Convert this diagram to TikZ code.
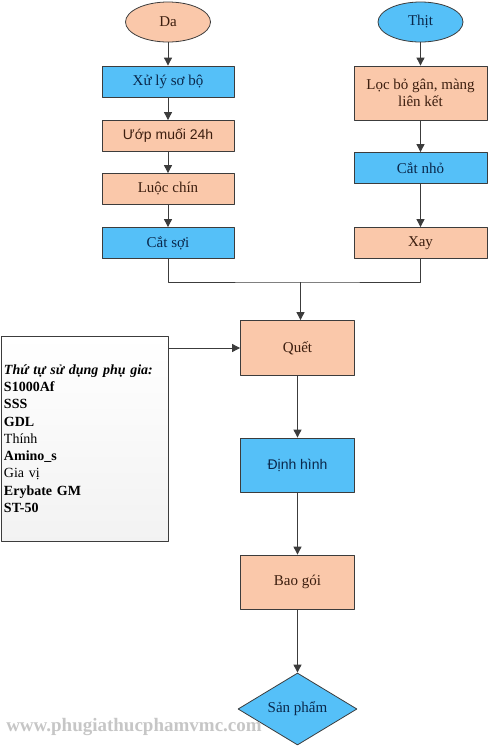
\documentclass[tikz,border=0pt]{standalone}
\usepackage{fontspec}
\setmainfont{Liberation Serif}
\newfontfamily\arialfont{Liberation Sans}
\usetikzlibrary{arrows.meta,shapes.geometric}
\definecolor{cam}{RGB}{250,200,170}
\definecolor{xanh}{RGB}{85,192,248}
\definecolor{vien}{RGB}{60,60,60}
\definecolor{chucam}{RGB}{60,30,15}
\definecolor{chuxanh}{RGB}{10,40,75}
\begin{document}
\begin{tikzpicture}[x=1pt, y=-1pt, line join=round,
	hop/.style={draw=vien, line width=0.8pt, rectangle, minimum height=31pt, inner sep=2pt, align=center, font=\fontsize{15}{17}\selectfont},
	cam/.style={hop, fill=cam, text=chucam},
	xanh/.style={hop, fill=xanh, text=chuxanh},
	muiten/.style={draw=vien, line width=0.9pt, -{Triangle[length=8pt,width=8pt]}},
	noi/.style={draw=vien, line width=0.9pt}]
				\useasboundingbox (0,0) rectangle (489,747);
				% cot trai: da
				\node[cam, ellipse, minimum width=85pt, minimum height=40pt] (da) at (168,22) {Da};
				\node[xanh, minimum width=132pt] (xuly) at (168,81.5) {Xử lý sơ bộ};
				\node[cam, minimum width=132pt, font=\arialfont\fontsize{14}{16}\selectfont] (uop) at (168,136) {Ướp muối 24h};
				\node[cam, minimum width=132pt] (luoc) at (168,189) {Luộc chín};
				\node[xanh, minimum width=132pt] (catsoi) at (168,243) {Cắt sợi};
				% cot phai: thit
				\node[xanh, ellipse, minimum width=85pt, minimum height=40pt] (thit) at (420.5,22) {Thịt};
				\node[cam, minimum width=133pt, minimum height=54pt] (loc) at (420.5,93) {Lọc bỏ gân, màng\\ liên kết};
				\node[xanh, minimum width=133pt] (catnho) at (420.5,168) {Cắt nhỏ};
				\node[cam, minimum width=133pt] (xay) at (420.5,243) {Xay};
				% cot giua
				\node[cam, minimum width=114pt, minimum height=55pt] (quet) at (297.5,348) {Quết};
				\node[xanh, minimum width=114pt, minimum height=54pt, font=\arialfont\fontsize{14}{16}\selectfont] (dinhhinh) at (297.5,465) {Định hình};
				\node[cam, minimum width=114pt, minimum height=54pt] (baogoi) at (297.5,582) {Bao gói};
				\node[xanh, diamond, aspect=1.65, inner sep=0pt, minimum width=119pt, minimum height=72pt] (sanpham) at (297.5,709) {Sản phẩm};
				% phu gia
				\node[draw=vien, line width=0.6pt, top color=white, bottom color=gray!10, minimum width=167pt, minimum height=205pt, text width=161pt, align=left, inner sep=3pt, font=\fontsize{14}{17.3}\selectfont] (phugia) at (84.5,438.5)
					{\textbf{\textit{Thứ tự sử dụng phụ gia:}}\\ \textbf{S1000Af}\\ \textbf{SSS}\\ \textbf{GDL}\\ Thính\\ \textbf{Amino\_s}\\ Gia vị\\ \textbf{Erybate GM}\\ \textbf{ST-50}};
				\coordinate (M) at (300.5,282);
				\foreach \a/\b in {da/xuly,xuly/uop,uop/luoc,luoc/catsoi,thit/loc,loc/catnho,catnho/xay,quet/dinhhinh,dinhhinh/baogoi,baogoi/sanpham}
					\draw[muiten] (\a) -- (\b);
				\draw[noi] (catsoi.south) |- (M) -| (xay.south);
				\draw[muiten] (M) -- (M |- quet.north);
				\draw[muiten] (phugia.east |- quet.west) -- (quet.west);
				\node[text=gray!45, font=\bfseries\fontsize{19}{19}\selectfont] (web) at (134,727) {www.phugiathucphamvmc.com};
			\end{tikzpicture}
\end{document}
